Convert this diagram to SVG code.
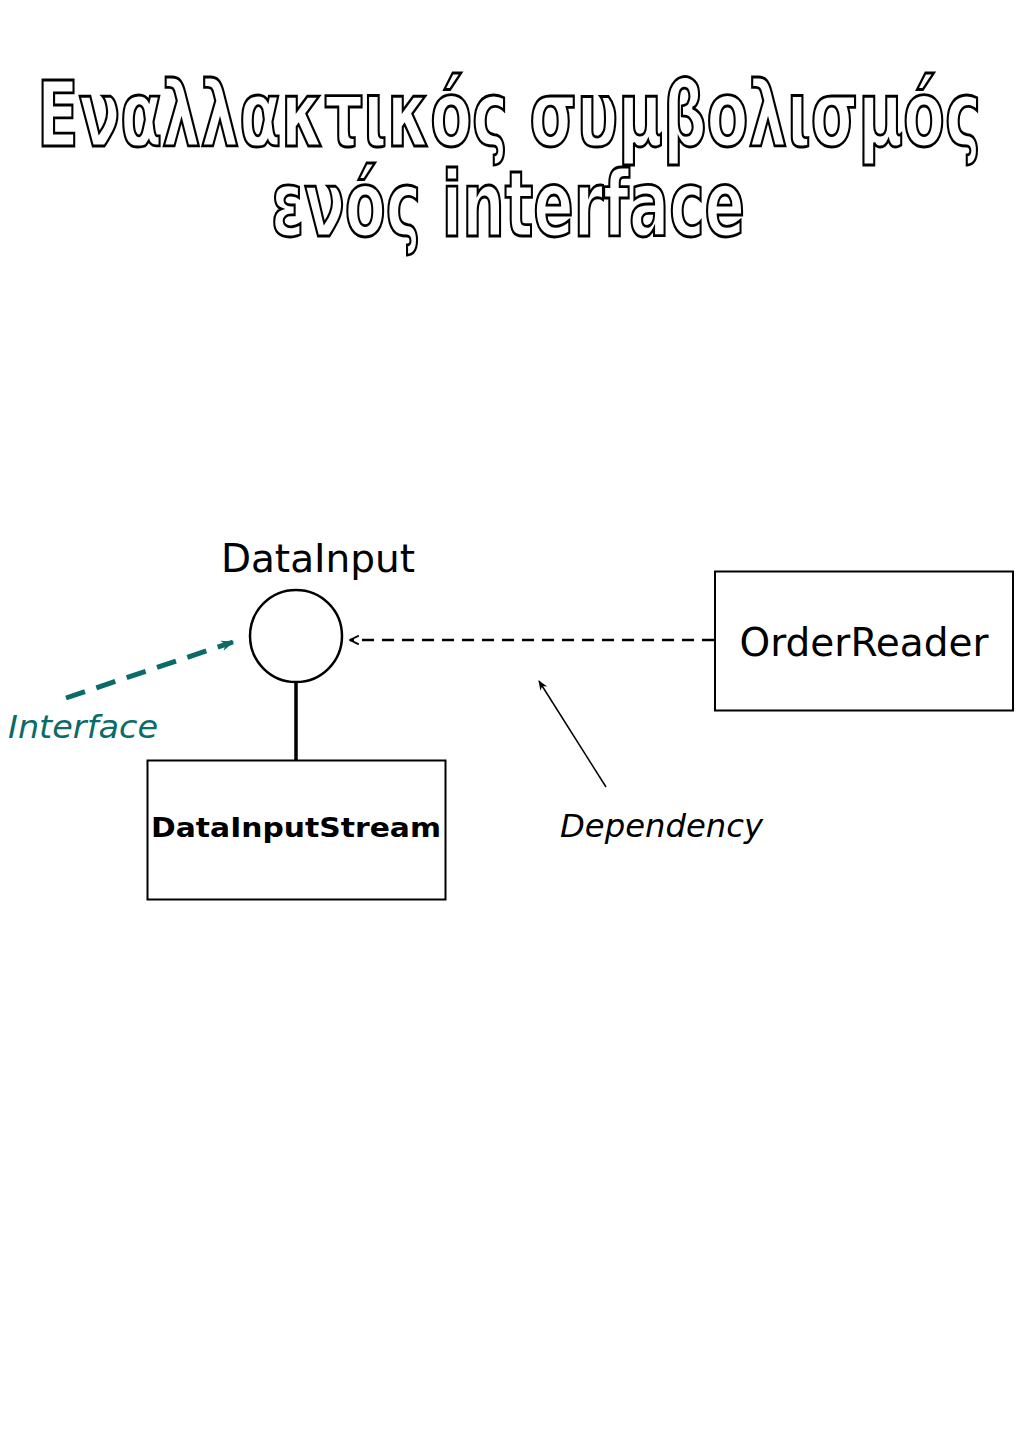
<svg xmlns="http://www.w3.org/2000/svg" width="1024" height="1448" viewBox="0 0 1024 1448">
<style>
.title{font-family:"DejaVu Sans Condensed","DejaVu Sans",sans-serif;font-weight:bold;font-size:90px;fill:#fdfdfd;stroke:#000;stroke-width:2.8px;text-anchor:middle}
.lbl{font-family:"DejaVu Sans",Verdana,sans-serif;fill:#000}
.box{fill:#fff;stroke:#000;stroke-width:2}
.it{font-family:"DejaVu Sans","Open Sans",sans-serif;font-style:italic}
</style>
<defs>
<marker id="arrBlack" viewBox="0 0 10 10" refX="9" refY="5" markerWidth="11" markerHeight="11" orient="auto" markerUnits="userSpaceOnUse">
<path d="M1,1 L9,5 L1,9" fill="none" stroke="#000" stroke-width="1.6"/>
</marker>
<marker id="arrTeal" viewBox="0 0 10 10" refX="9" refY="5" markerWidth="13" markerHeight="13" orient="auto" markerUnits="userSpaceOnUse">
<path d="M0,1 L10,5 L0,9 L3,5 Z" fill="#0b6b68"/>
</marker>
<marker id="arrThin" viewBox="0 0 10 10" refX="9" refY="5" markerWidth="10" markerHeight="10" orient="auto" markerUnits="userSpaceOnUse">
<path d="M0,1 L10,5 L0,9 L3,5 Z" fill="#000"/>
</marker>
</defs>
<rect width="1024" height="1448" fill="#fff"/>
<g id="title">
<text class="title" x="509" y="146" textLength="944" lengthAdjust="spacingAndGlyphs">Εναλλακτικός συμβολισμός</text>
<text class="title" x="508" y="236" textLength="474" lengthAdjust="spacingAndGlyphs">ενός interface</text>
</g>
<g id="connectors">
<line x1="296" y1="682" x2="296" y2="760" stroke="#000" stroke-width="3.5"/>
<line x1="714" y1="640" x2="350" y2="640" stroke="#000" stroke-width="2.5" stroke-dasharray="12,8" marker-end="url(#arrBlack)"/>
<line x1="66" y1="698" x2="233" y2="642" stroke="#0b6b68" stroke-width="5" stroke-dasharray="20,12" marker-end="url(#arrTeal)"/>
<line x1="606" y1="787" x2="539" y2="681" stroke="#000" stroke-width="1.5" marker-end="url(#arrThin)"/>
</g>
<g id="DataInput">
<circle cx="296" cy="636" r="46" fill="#fff" stroke="#000" stroke-width="2.5"/>
<text class="lbl" x="318" y="572" font-size="39" text-anchor="middle">DataInput</text>
</g>
<g id="DataInputStream">
<rect class="box" x="147.5" y="760.5" width="298" height="139"/>
<text class="lbl" x="296" y="837" font-size="27" font-weight="bold" text-anchor="middle" textLength="290" lengthAdjust="spacingAndGlyphs">DataInputStream</text>
</g>
<g id="OrderReader">
<rect class="box" x="715" y="571.5" width="298" height="139"/>
<text class="lbl" x="864" y="656" font-size="39" text-anchor="middle">OrderReader</text>
</g>
<g id="labels">
<text class="it" x="8" y="738" font-size="32" fill="#0b6b68" textLength="150" lengthAdjust="spacingAndGlyphs">Interface</text>
<text class="it" x="560" y="837" font-size="32" fill="#000" textLength="203" lengthAdjust="spacingAndGlyphs">Dependency</text>
</g>
</svg>
